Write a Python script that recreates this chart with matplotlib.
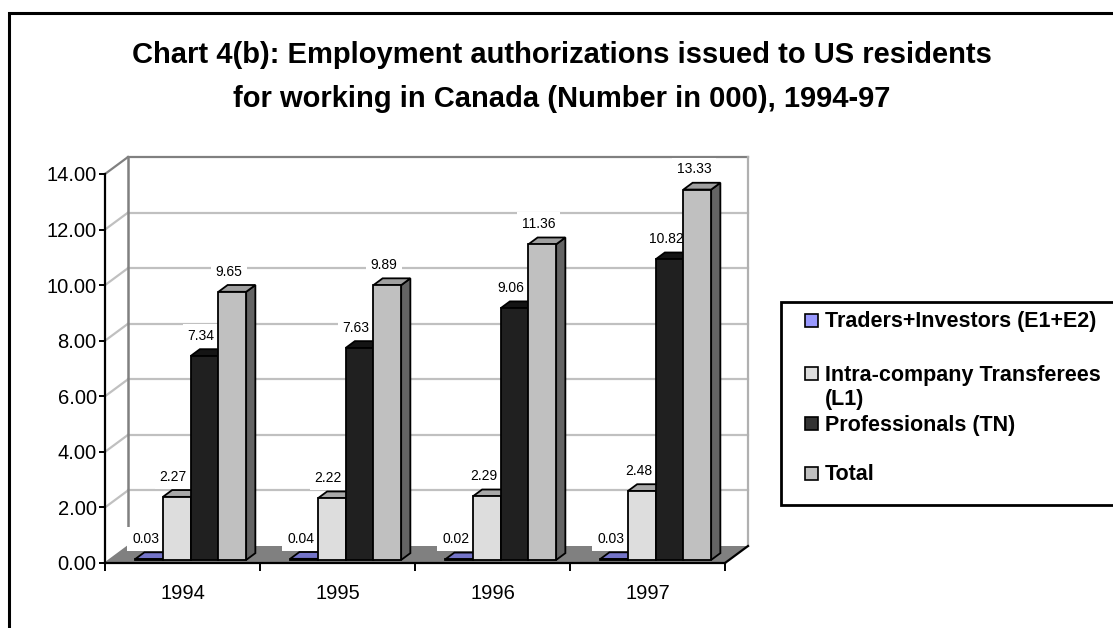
import matplotlib
matplotlib.use("Agg")
import matplotlib.pyplot as plt
from matplotlib.patches import Polygon, Rectangle

plt.rcParams["font.family"] = ["Liberation Sans", "DejaVu Sans"]

# Employment authorizations (thousands)
years = ["1994", "1995", "1996", "1997"]
series = ["Traders+Investors (E1+E2)", "Intra-company Transferees\n(L1)",
          "Professionals (TN)", "Total"]
traders = [0.03, 0.04, 0.02, 0.03]
transferees = [2.27, 2.22, 2.29, 2.48]
professionals = [7.34, 7.63, 9.06, 10.82]
totals = [9.65, 9.89, 11.36, 13.33]
values = [traders, transferees, professionals, totals]
yticks = [0, 2, 4, 6, 8, 10, 12, 14]

front_colors = ["#9999ff", "#dddddd", "#202020", "#c0c0c0"]
top_colors = ["#7474c8", "#a8a8a8", "#141414", "#a0a0a0"]
side_colors = ["#5050a0", "#858585", "#0a0a0a", "#646464"]
legend_colors = ["#9999ff", "#dddddd", "#333333", "#c0c0c0"]

W, H = 1113, 628
fig = plt.figure(figsize=(W / 100, H / 100), dpi=100)

# plot area = front plane of the 3D box, in pixels
px0, px1, py_top, py_bot = 105, 725, 174, 563
ax = fig.add_axes([px0 / W, 1 - py_bot / H, (px1 - px0) / W, (py_bot - py_top) / H])
ax.set_xlim(0, len(years))
ax.set_ylim(0, 14)

# depth of the box in data units (23 px right, 17 px up)
DX = 23 / ((px1 - px0) / len(years))
DY = 17 / ((py_bot - py_top) / 14)

def at(x, y, f):
    return (x + f * DX, y + f * DY)

# back wall with gridlines and side diagonals
for t in yticks[1:]:
    col = "#808080" if t == yticks[-1] else "#c0c0c0"
    ax.plot([DX, len(years) + DX], [t + DY, t + DY], color=col, lw=1.6, zorder=1, clip_on=False)
    ax.plot([0, DX], [t, t + DY], color=col, lw=1.6, zorder=1, clip_on=False)
ax.plot([DX, DX], [DY, 14 + DY], color="#808080", lw=1.8, zorder=1, clip_on=False)
ax.plot([len(years) + DX] * 2, [DY, 14 + DY], color="#b0b0b0", lw=1.6, zorder=1, clip_on=False)

# floor
n = len(years)
ax.add_patch(Polygon([(0, 0), (n, 0), (n + DX, DY), (DX, DY)], closed=True,
                     facecolor="#808080", edgecolor="none", zorder=2, clip_on=False))
ax.plot([n, n + DX], [0, DY], color="black", lw=1.6, zorder=3, clip_on=False)
ax.plot([0, DX], [0, DY], color="#808080", lw=1.2, zorder=3, clip_on=False)

# 3D bars
bw = 0.179
start = 0.168
f0, f1 = 0.18, 0.58
z = 10
for c in range(n):
    for s in range(len(series)):
        v = values[s][c]
        xb = c + start + s * bw
        fl = at(xb, 0, f0)
        fr = at(xb + bw, 0, f0)
        ftl = at(xb, v, f0)
        ftr = at(xb + bw, v, f0)
        btl = at(xb, v, f1)
        btr = at(xb + bw, v, f1)
        bbr = at(xb + bw, 0, f1)
        # value label sits behind the next bar
        ax.annotate(f"{v:.2f}", xy=((ftl[0] + ftr[0]) / 2, ftl[1]),
                    xytext=(-2.5, 14.5), textcoords="offset points",
                    ha="center", va="center", fontsize=10, zorder=z,
                    bbox=dict(boxstyle="square,pad=0.35", fc="white", ec="none"),
                    annotation_clip=False)
        z += 1
        ax.add_patch(Polygon([fr, bbr, btr, ftr], closed=True, facecolor=side_colors[s],
                             edgecolor="black", lw=1.3, zorder=z, clip_on=False))
        ax.add_patch(Polygon([ftl, ftr, btr, btl], closed=True, facecolor=top_colors[s],
                             edgecolor="black", lw=1.3, zorder=z, clip_on=False))
        ax.add_patch(Polygon([fl, fr, ftr, ftl], closed=True, facecolor=front_colors[s],
                             edgecolor="black", lw=1.3, zorder=z, clip_on=False))
        z += 1

# axes: front y axis and x axis
for side in ["top", "right"]:
    ax.spines[side].set_visible(False)
ax.spines["left"].set_linewidth(1.6)
ax.spines["bottom"].set_linewidth(1.6)
ax.spines["left"].set_zorder(5)
ax.spines["bottom"].set_zorder(5)
ax.set_yticks(yticks)
ax.set_yticklabels([f"{t:.2f}" for t in yticks], fontsize=14.5)
ax.tick_params(axis="y", length=4.5, width=1.4, pad=1.5)
ax.set_xticks(range(n + 1))
ax.set_xticklabels([""] * (n + 1))
ax.tick_params(axis="x", which="major", length=6, width=1.4)
ax.set_xticks([c + 0.5 for c in range(n)], minor=True)
ax.set_xticklabels(years, minor=True, fontsize=14.5)
ax.tick_params(axis="x", which="minor", length=0, pad=15)
ax.patch.set_visible(False)

# overlay in pixel coordinates: frame, title, legend
ov = fig.add_axes([0, 0, 1, 1], zorder=-1)
ov.set_xlim(0, W)
ov.set_ylim(H, 0)
ov.axis("off")
ov.plot([9, 9, W], [H, 13, 13], color="black", lw=2.2, solid_joinstyle="miter")

ov.text(562, 63, "Chart 4(b): Employment authorizations issued to US residents",
        ha="center", va="baseline", fontsize=21, fontweight="bold")
ov.text(562, 107, "for working in Canada (Number in 000), 1994-97",
        ha="center", va="baseline", fontsize=21, fontweight="bold")

ov.add_patch(Rectangle((781, 302), W - 781 + 5, 203, facecolor="white",
                       edgecolor="black", lw=2))
entry_y = [320, 373, 423, 473]
for name, col, yc in zip(series, legend_colors, entry_y):
    ov.add_patch(Rectangle((805, yc - 6.5), 13, 13, facecolor=col, edgecolor="black", lw=1.2))
    for k, line in enumerate(name.split("\n")):
        ov.text(825, yc + 7.5 + 24 * k, line, ha="left", va="baseline",
                fontsize=15.5, fontweight="bold")

fig.savefig("out.png", dpi=100)
